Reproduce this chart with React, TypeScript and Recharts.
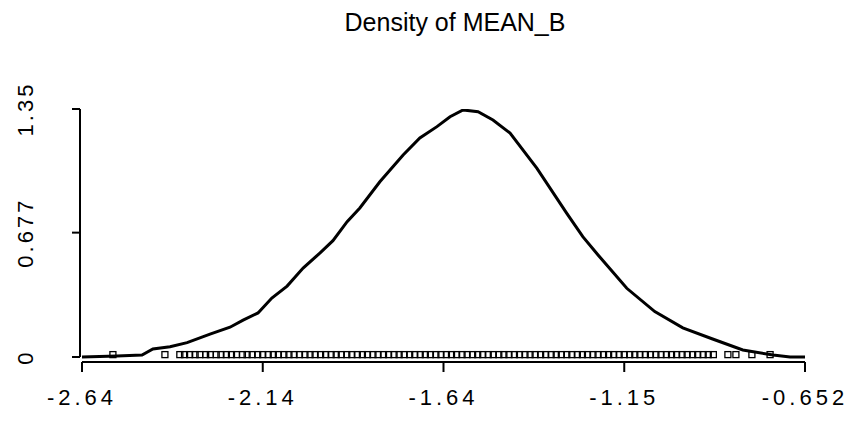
import { ComposedChart, Line, Scatter, XAxis, YAxis, ReferenceLine } from "recharts";

// Density estimate of MEAN_B.
const densityX = [
  -2.64, -2.544, -2.475, -2.445, -2.398, -2.351, -2.288, -2.233, -2.197, -2.156, -2.118, -2.076, -2.032, -1.986,
  -1.95, -1.911, -1.876, -1.821, -1.757, -1.711, -1.664, -1.628, -1.592, -1.551, -1.51, -1.463, -1.389, -1.307,
  -1.263, -1.221, -1.142, -1.065, -0.988, -0.906, -0.823, -0.74, -0.693, -0.652,
];
const densityY = [
  0, 0.005, 0.011, 0.044, 0.056, 0.078, 0.125, 0.162, 0.201, 0.24, 0.321, 0.386, 0.484, 0.566,
  0.633, 0.737, 0.811, 0.954, 1.1, 1.192, 1.254, 1.308, 1.345, 1.335, 1.29, 1.219, 1.027, 0.782,
  0.655, 0.555, 0.374, 0.247, 0.159, 0.098, 0.038, 0.011, 0, 0,
];

// Sample values drawn as a rug of open squares along the baseline.
const rugX = [
  -2.555, -2.412, -2.371, -2.358, -2.344, -2.329, -2.316, -2.3, -2.287, -2.271, -2.258, -2.243, -2.229, -2.215,
  -2.199, -2.186, -2.172, -2.157, -2.143, -2.128, -2.114, -2.1, -2.085, -2.071, -2.057, -2.042, -2.027, -2.013,
  -1.999, -1.984, -1.97, -1.955, -1.941, -1.927, -1.912, -1.898, -1.883, -1.869, -1.855, -1.84, -1.826, -1.811,
  -1.797, -1.782, -1.768, -1.754, -1.739, -1.725, -1.71, -1.696, -1.682, -1.667, -1.653, -1.638, -1.624, -1.61,
  -1.595, -1.581, -1.566, -1.552, -1.538, -1.523, -1.509, -1.494, -1.48, -1.466, -1.451, -1.437, -1.422, -1.408,
  -1.394, -1.379, -1.365, -1.35, -1.336, -1.322, -1.307, -1.293, -1.278, -1.264, -1.25, -1.235, -1.221, -1.206,
  -1.192, -1.178, -1.163, -1.149, -1.134, -1.12, -1.106, -1.091, -1.077, -1.062, -1.048, -1.033, -1.019, -1.005,
  -0.99, -0.976, -0.961, -0.947, -0.932, -0.918, -0.904, -0.864, -0.842, -0.798, -0.748,
];
const RUG_Y = 0.013;

const xTicks = [-2.64, -2.143, -1.646, -1.149, -0.652];
const xTickLabels = ["-2.64", "-2.14", "-1.64", "-1.15", "-0.652"];
const yTicks = [0, 0.677, 1.35];
const yTickLabels = ["0", "0.677", "1.35"];

const X_DOMAIN: [number, number] = [-2.6455, -0.652];
const Y_DOMAIN: [number, number] = [-0.0272, 1.35];

const FONT = "'Liberation Sans', Arial, sans-serif";
const INK = "#000";

const curve = densityX.map((x, i) => ({ x, y: densityY[i] }));
const rug = rugX.map((x) => ({ x, y: RUG_Y }));

function XTick({ x, y, index }: any) {
  return (
    <text x={x} y={y + 31} textAnchor="middle" fontFamily={FONT} fontSize={22} letterSpacing={4} fill={INK}>
      {xTickLabels[index]}
    </text>
  );
}

function YTick({ x, y, index }: any) {
  const tx = x - 37;
  return (
    <text
      x={tx}
      y={y}
      transform={`rotate(-90, ${tx}, ${y})`}
      textAnchor="middle"
      fontFamily={FONT}
      fontSize={22}
      letterSpacing={3}
      fill={INK}
    >
      {yTickLabels[index]}
    </text>
  );
}

function RugSquare({ cx, cy }: any) {
  return <rect x={cx - 3} y={cy - 3} width={6} height={6} fill="none" stroke={INK} strokeWidth={1.3} />;
}

export default function App() {
  return (
    <div style={{ position: "absolute", left: 0, top: 0, width: 849, height: 425, background: "#fff" }}>
      <div
        style={{
          position: "absolute",
          left: 0,
          width: 910,
          top: 8,
          textAlign: "center",
          fontFamily: FONT,
          fontSize: 25,
          color: INK,
        }}
      >
        Density of MEAN_B
      </div>
      <ComposedChart width={849} height={425} margin={{ top: 109, right: 44, bottom: 0, left: 0 }}>
        <XAxis
          type="number"
          dataKey="x"
          domain={X_DOMAIN}
          allowDataOverflow
          ticks={xTicks}
          interval={0}
          axisLine={false}
          tickLine={{ stroke: INK, strokeWidth: 2 }}
          tickSize={10}
          height={63}
          tick={<XTick />}
        />
        <YAxis
          type="number"
          dataKey="y"
          domain={Y_DOMAIN}
          allowDataOverflow
          ticks={yTicks}
          interval={0}
          axisLine={false}
          tickLine={{ stroke: INK, strokeWidth: 2 }}
          tickSize={8}
          width={80}
          tick={<YTick />}
        />
        <ReferenceLine
          segment={[
            { x: X_DOMAIN[0], y: 0 },
            { x: X_DOMAIN[0], y: 1.35 },
          ]}
          stroke={INK}
          strokeWidth={2}
        />
        <ReferenceLine
          segment={[
            { x: xTicks[0], y: Y_DOMAIN[0] },
            { x: xTicks[xTicks.length - 1], y: Y_DOMAIN[0] },
          ]}
          stroke={INK}
          strokeWidth={2}
        />
        <Scatter data={rug} dataKey="y" shape={<RugSquare />} isAnimationActive={false} />
        <Line
          data={curve}
          dataKey="y"
          type="linear"
          stroke={INK}
          strokeWidth={3}
          dot={false}
          isAnimationActive={false}
        />
      </ComposedChart>
    </div>
  );
}
